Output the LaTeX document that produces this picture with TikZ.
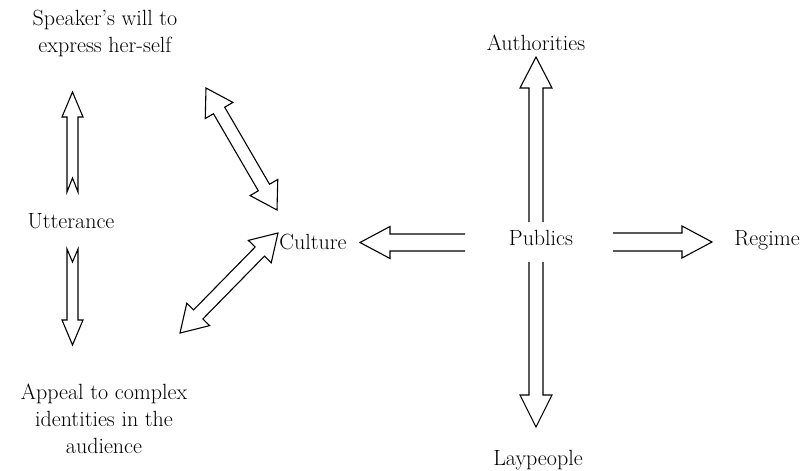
\documentclass[tikz,border=0pt]{standalone}
\usepackage{fontspec}
\usetikzlibrary{calc}
\tikzset{
  blk/.style={draw=black, line width=1.1pt, line join=miter, fill=white},
  lbl/.style={inner sep=0pt, font=\rmfamily\fontsize{22}{27}\selectfont, align=center}
}
% #1 name, #2 tail, #3 tip, #4 half shaft, #5 half head, #6 head length
\newcommand{\openarrow}[6]{%
  \coordinate (#1b) at ($(#3)!#6!(#2)$);
  \draw[blk] ($(#2)!#4!90:(#3)$) -- ($(#1b)!#4!-90:(#2)$) -- ($(#1b)!#5!-90:(#2)$) -- (#3)
     -- ($(#1b)!#5!90:(#2)$) -- ($(#1b)!#4!90:(#2)$) -- ($(#2)!#4!-90:(#3)$);
}
% #7 notch depth
\newcommand{\notcharrow}[7]{%
  \coordinate (#1b) at ($(#3)!#6!(#2)$);
  \draw[blk] ($(#2)!#4!90:(#3)$) -- ($(#1b)!#4!-90:(#2)$) -- ($(#1b)!#5!-90:(#2)$) -- (#3)
     -- ($(#1b)!#5!90:(#2)$) -- ($(#1b)!#4!90:(#2)$) -- ($(#2)!#4!-90:(#3)$)
     -- ($(#2)!#7!(#3)$) -- cycle;
}
\newcommand{\doublearrow}[6]{%
  \coordinate (#1a) at ($(#2)!#6!(#3)$);
  \coordinate (#1b) at ($(#3)!#6!(#2)$);
  \draw[blk] (#2) -- ($(#1a)!#5!90:(#3)$) -- ($(#1a)!#4!90:(#3)$) -- ($(#1b)!#4!-90:(#2)$)
     -- ($(#1b)!#5!-90:(#2)$) -- (#3) -- ($(#1b)!#5!90:(#2)$) -- ($(#1b)!#4!90:(#2)$)
     -- ($(#1a)!#4!-90:(#3)$) -- ($(#1a)!#5!-90:(#3)$) -- cycle;
}
\begin{document}
\begin{tikzpicture}[x=1pt, y=-1pt]
\useasboundingbox[fill=white] (0,0) rectangle (803,471);

% text nodes
\node[lbl] (speaker) at (105,33) {Speaker’s will to\\express her-self};
\node[lbl, anchor=base] (utter) at (71,228) {Utterance};
\node[lbl] (appeal) at (104,419) {Appeal to complex\\identities in the\\audience};
\node[lbl, anchor=base] (culture) at (313,249) {Culture};
\node[lbl, anchor=base] (publics) at (541,245) {Publics};
\node[lbl, anchor=base] (regime) at (767,245) {Regime};
\node[lbl, anchor=base] (auth) at (536,50) {Authorities};
\node[lbl, anchor=base] (lay) at (538,465) {Laypeople};

% arrow end points
\coordinate (uupT) at (72.5,192);  \coordinate (uupH) at (72.5,92);
\coordinate (udnT) at (72.5,249);  \coordinate (udnH) at (72.5,345);
\coordinate (d1A) at (206,88);     \coordinate (d1B) at (277,210);
\coordinate (d2A) at (278,233);    \coordinate (d2B) at (180,333);
\coordinate (pcT) at (465,242.5);  \coordinate (pcH) at (360,242.5);
\coordinate (prT) at (613,242);    \coordinate (prH) at (712,242);
\coordinate (paT) at (536,222);    \coordinate (paH) at (536,57);
\coordinate (plT) at (536,262);    \coordinate (plH) at (536,427);

% arrows
\notcharrow{uup}{uupT}{uupH}{5.5pt}{10.5pt}{25pt}{14pt}
\notcharrow{udn}{udnT}{udnH}{5.5pt}{10.5pt}{25pt}{13pt}
\doublearrow{da}{d1A}{d1B}{6.5pt}{16pt}{26pt}
\doublearrow{db}{d2A}{d2B}{6.5pt}{16pt}{26pt}
\openarrow{pc}{pcT}{pcH}{8.5pt}{16pt}{30pt}
\openarrow{pr}{prT}{prH}{9pt}{16pt}{30pt}
\openarrow{pa}{paT}{paH}{7pt}{16pt}{31pt}
\openarrow{pl}{plT}{plH}{7pt}{16pt}{32pt}
\end{tikzpicture}
\end{document}
